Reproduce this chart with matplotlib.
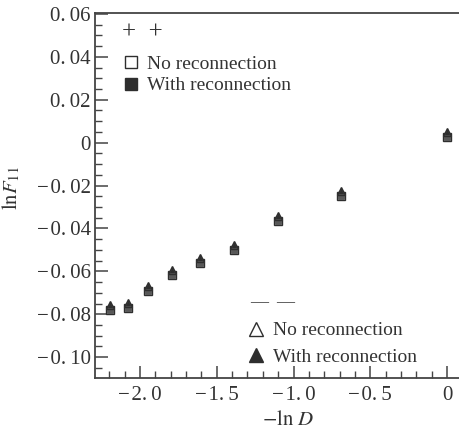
import matplotlib
matplotlib.use("Agg")
import matplotlib.pyplot as plt
from matplotlib.ticker import MultipleLocator, FixedLocator, FuncFormatter
from matplotlib.lines import Line2D

plt.rcParams['font.family'] = ['Liberation Serif', 'DejaVu Serif']
plt.rcParams['mathtext.fontset'] = 'stix'

# -ln D for D = 9..1
x_vals = [-2.197, -2.079, -1.946, -1.792, -1.609, -1.386, -1.099, -0.693, 0.0]
sq_no = [-0.0781, -0.0771, -0.0692, -0.0618, -0.0563, -0.0502, -0.0364, -0.0248, 0.0025]
sq_with = [-0.0781, -0.0771, -0.0692, -0.0618, -0.0563, -0.0502, -0.0364, -0.0248, 0.0025]
tri_no = [-0.0757, -0.0747, -0.0668, -0.0594, -0.0539, -0.0478, -0.0340, -0.0224, 0.0049]
tri_with = [-0.0757, -0.0747, -0.0668, -0.0594, -0.0539, -0.0478, -0.0340, -0.0224, 0.0049]

x_ticks = [-2.0, -1.5, -1.0, -0.5, 0.0]
y_ticks = [0.06, 0.04, 0.02, 0.0, -0.02, -0.04, -0.06, -0.08, -0.10]

dark = '#2e2e2e'
txt = '#333333'
fig = plt.figure(figsize=(4.59, 4.30), dpi=100)
ax = fig.add_axes([0.207, 0.121, 0.793, 0.849])

ax.plot(x_vals, sq_no, ls='none', marker='s', ms=6, mfc='white', mec=dark, mew=1.0, zorder=3)
ax.plot(x_vals, sq_with, ls='none', marker='s', ms=5, mfc=dark, mec=dark, mew=0.5, alpha=0.8, zorder=4)
ax.plot(x_vals, tri_no, ls='none', marker='^', ms=6, mfc='white', mec=dark, mew=1.0, zorder=5)
ax.plot(x_vals, tri_with, ls='none', marker='^', ms=5, mfc=dark, mec=dark, mew=0.5, zorder=6)

ax.set_xlim(-2.293, 0.078)
ax.set_ylim(-0.1097, 0.0605)

ax.spines['right'].set_visible(False)
for s in ['left', 'bottom', 'top']:
    ax.spines[s].set_color('#444444')
    ax.spines[s].set_linewidth(1.3)

ax.xaxis.set_major_locator(FixedLocator(x_ticks))
ax.xaxis.set_minor_locator(MultipleLocator(0.1))
ax.yaxis.set_major_locator(FixedLocator(y_ticks))
ax.yaxis.set_minor_locator(MultipleLocator(0.005))

def spaced(s):
    return s.replace('.', '.\u2009')

def fmt_x(v, pos):
    if abs(v) < 1e-9:
        return '0'
    return ('\u2212\u200a' if v < 0 else '') + spaced(f'{abs(v):.1f}')

def fmt_y(v, pos):
    if abs(v) < 1e-9:
        return '0'
    return ('\u2212\u200a' if v < 0 else '') + spaced(f'{abs(v):.2f}')

ax.xaxis.set_major_formatter(FuncFormatter(fmt_x))
ax.yaxis.set_major_formatter(FuncFormatter(fmt_y))

ax.tick_params(axis='both', which='major', direction='in', length=9, width=1.1,
               color='#444444', labelsize=15, labelcolor=txt, top=False, right=False)
ax.tick_params(axis='both', which='minor', direction='in', length=5, width=1.0,
               color='#444444', top=False, right=False)
ax.tick_params(axis='y', which='major', pad=3)
ax.tick_params(axis='x', which='major', pad=6)

ax.set_ylabel(r'$\mathrm{ln}F_{11}$', fontsize=15, color=txt, labelpad=0)
ax.yaxis.set_label_coords(-0.2, 0.52)
ax.set_xlabel(r'$-\mathrm{ln}\ D$', fontsize=15, color=txt)
ax.xaxis.set_label_coords(0.53, -0.09)

# upper-left legend (squares)
ax.text(0.075, 0.948, '+  +', transform=ax.transAxes, fontsize=18, color=txt,
        va='center', ha='left')
h1 = [Line2D([], [], ls='none', marker='s', ms=9, mfc='white', mec=dark, mew=1.0),
      Line2D([], [], ls='none', marker='s', ms=9, mfc=dark, mec=dark)]
leg1 = ax.legend(h1, ['No reconnection', 'With reconnection'], loc='upper left',
                 bbox_to_anchor=(0.055, 0.905), frameon=False, fontsize=14,
                 handlelength=0.8, handletextpad=0.45, labelspacing=0.2, borderaxespad=0)
for t in leg1.get_texts():
    t.set_color(txt)
ax.add_artist(leg1)

# lower-right legend (triangles)
ax.text(0.425, 0.208, '\u2014  \u2014', transform=ax.transAxes, fontsize=13, color=txt,
        va='center', ha='left')
h2 = [Line2D([], [], ls='none', marker='^', ms=10, mfc='white', mec=dark, mew=1.0),
      Line2D([], [], ls='none', marker='^', ms=10, mfc=dark, mec=dark)]
leg2 = ax.legend(h2, ['No reconnection', 'With reconnection'], loc='upper left',
                 bbox_to_anchor=(0.4, 0.175), frameon=False, fontsize=14,
                 handlelength=0.8, handletextpad=0.45, labelspacing=0.45, borderaxespad=0)
for t in leg2.get_texts():
    t.set_color(txt)

fig.savefig('out.png', dpi=100, facecolor='white')
